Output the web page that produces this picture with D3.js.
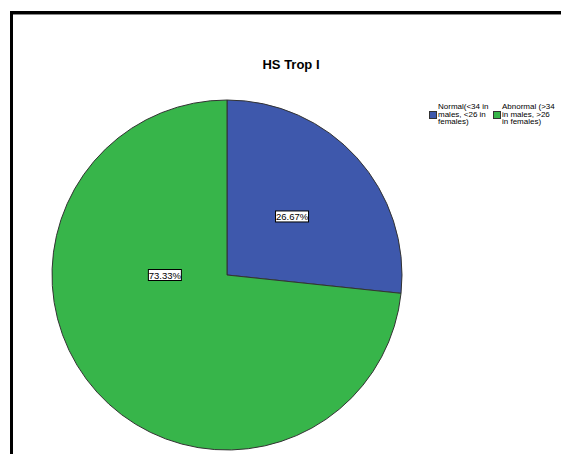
<!DOCTYPE html>
<html>
<head>
<meta charset="utf-8">
<script src="https://cdn.jsdelivr.net/npm/d3@7"></script>
<style>
  body { margin: 0; background: #fff; }
  svg { display: block; font-family: "Liberation Sans", Arial, sans-serif; }
</style>
</head>
<body>
<div id="chart"></div>
<script>
// data
const categories = ["Normal(<34 in males, <26 in females)", "Abnormal (>34 in males, >26 in females)"];
const legendLines = [["Normal(<34 in", "males, <26 in", "females)"], ["Abnormal (>34", "in males, >26", "in females)"]];
const percents = [26.67, 73.33];
const colors = ["#3E58AC", "#37B54A"];
const title = "HS Trop I";

const width = 561, height = 454;
const cx = 227, cy = 275, radius = 175;

const svg = d3.select("#chart").append("svg")
  .attr("width", width)
  .attr("height", height);

// frame
svg.append("path")
  .attr("d", `M11.5,${height} L11.5,12.5 L${width},12.5`)
  .attr("fill", "none")
  .attr("stroke", "#000")
  .attr("stroke-width", 3);
svg.append("line")
  .attr("x1", 13).attr("x2", width).attr("y1", 14.5).attr("y2", 14.5)
  .attr("stroke", "#888").attr("stroke-width", 1);

svg.append("text")
  .attr("x", 291).attr("y", 69)
  .attr("text-anchor", "middle")
  .attr("font-size", 13)
  .attr("font-weight", "bold")
  .text(title);

const dataSet = categories.map((c, i) => ({ category: c, value: percents[i], color: colors[i] }));

const pie = d3.pie().sort(null).value(d => d.value);
const arc = d3.arc().innerRadius(0).outerRadius(radius);

const g = svg.append("g").attr("transform", `translate(${cx},${cy})`);
const arcs = pie(dataSet);

g.selectAll(".slice")
  .data(arcs)
  .enter()
  .append("path")
  .attr("class", "slice")
  .attr("d", arc)
  .attr("fill", d => d.data.color)
  .attr("stroke", "#333")
  .attr("stroke-width", 1);

// labels - big slice label sits on the left, closer in
const labels = g.selectAll(".lbl")
  .data(arcs)
  .enter()
  .append("g")
  .attr("class", "lbl")
  .attr("transform", d => {
    const big = (d.endAngle - d.startAngle) > Math.PI;
    const a = big ? 1.5 * Math.PI : (d.startAngle + d.endAngle) / 2;
    const r = radius * (big ? 0.355 : 0.5);
    return `translate(${Math.sin(a) * r},${-Math.cos(a) * r})`;
  });

labels.append("rect")
  .attr("x", -16.5).attr("y", -5.5)
  .attr("width", 33).attr("height", 11)
  .attr("fill", "#fff")
  .attr("stroke", "#000")
  .attr("stroke-width", 1);

labels.append("text")
  .attr("text-anchor", "middle")
  .attr("y", 3.5)
  .attr("font-size", 9.5)
  .text(d => d.data.value.toFixed(2) + "%");

// legend
const legend = svg.append("g");
const legItems = legend.selectAll(".leg")
  .data(dataSet)
  .enter()
  .append("g")
  .attr("class", "leg")
  .attr("transform", (d, i) => `translate(${429 + i * 64},0)`);

legItems.append("rect")
  .attr("x", 0.5).attr("y", 111.5)
  .attr("width", 7).attr("height", 7)
  .attr("fill", d => d.color)
  .attr("stroke", "#333");

legItems.append("text")
  .attr("font-size", 8)
  .selectAll("tspan")
  .data((d, i) => legendLines[i])
  .enter()
  .append("tspan")
  .attr("x", 9)
  .attr("y", (t, j) => 109 + j * 7.5)
  .text(t => t);
</script>
</body>
</html>
